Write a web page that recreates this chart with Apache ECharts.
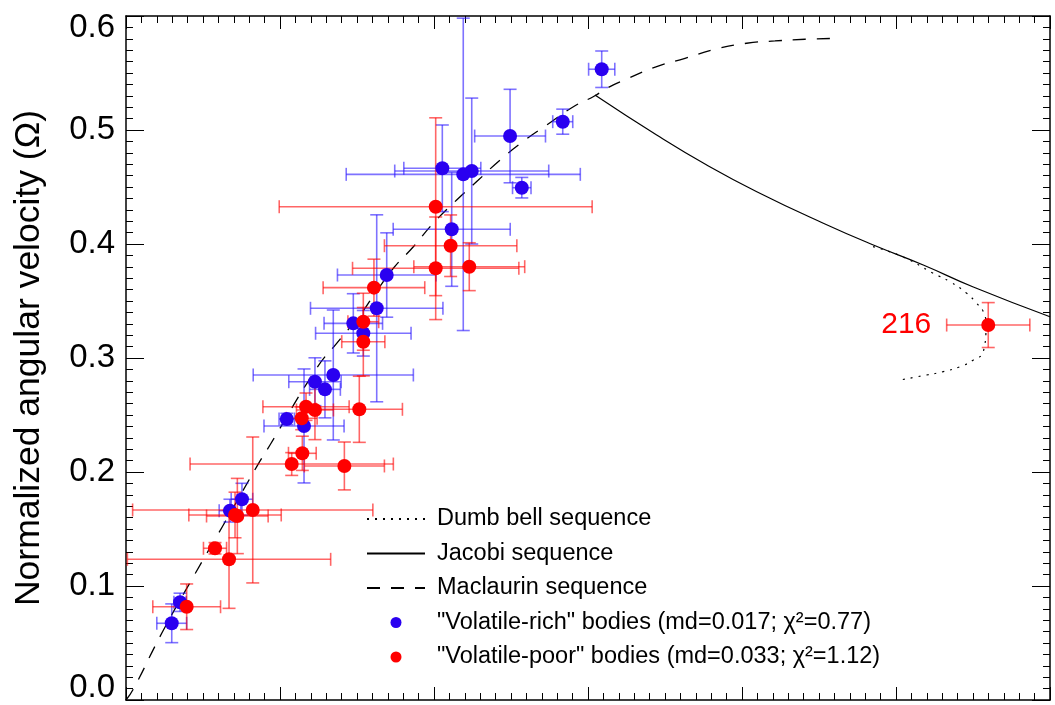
<!DOCTYPE html>
<html>
<head>
<meta charset="utf-8">
<script src="https://cdn.jsdelivr.net/npm/echarts@6/dist/echarts.min.js"></script>
<style>html,body{margin:0;padding:0;background:#fff}#c{width:1055px;height:705px}</style>
</head>
<body>
<div id="c"></div>
<script>
// ---- data ----
var yTicks = [0.0, 0.1, 0.2, 0.3, 0.4, 0.5, 0.6];

// "Volatile-rich" bodies: x, y, x error, y error
var richX  = [0.0297,0.0351,0.0675,0.0753,0.1044,0.1156,0.1227,0.1292,0.1346,0.1476,0.1541,0.1628,0.1693,0.2054,0.2115,0.2190,0.2245,0.2494,0.2570,0.2836,0.3089];
var richY  = [0.0673,0.0857,0.1661,0.1761,0.2465,0.2404,0.2792,0.2725,0.2851,0.3304,0.3217,0.3436,0.3728,0.4664,0.4129,0.4611,0.4640,0.4947,0.4494,0.5073,0.5533];
var richEx = [0.0097,0.004,0.007,0.007,0.005,0.026,0.017,0.010,0.052,0.019,0.031,0.043,0.032,0.025,0.038,0.076,0.050,0.023,0.006,0.0065,0.0085];
var richEy = [0.017,0.008,0.010,0.014,0.005,0.050,0.021,0.025,0.057,0.026,0.020,0.082,0.037,0.038,0.050,0.137,0.064,0.041,0.009,0.011,0.016];

// "Volatile-poor" bodies
var poorX  = [0.0394,0.0578,0.0669,0.0708,0.0723,0.0823,0.1076,0.1145,0.1418,0.1141,0.1169,0.1227,0.1515,0.1541,0.1541,0.1610,0.2011,0.2011,0.2108,0.2229,0.5599];
var poorY  = [0.0818,0.1331,0.1234,0.1623,0.1614,0.1667,0.2070,0.2164,0.2053,0.2471,0.2573,0.2544,0.2550,0.3318,0.3143,0.3617,0.4327,0.3787,0.3985,0.3801,0.3289];
var poorEx = [0.022,0.0075,0.066,0.030,0.020,0.078,0.066,0.009,0.026,0.010,0.028,0.012,0.028,0.010,0.014,0.033,0.1016,0.054,0.043,0.036,0.027];
var poorEy = [0.020,0.005,0.043,0.020,0.033,0.064,0.010,0.015,0.021,0.010,0.012,0.026,0.029,0.025,0.030,0.025,0.078,0.045,0.027,0.021,0.0197];
var poorLabels = ['','','','','','','','','','','','','','','','','','','','','216'];

// Theoretical sequences
var macX = [0.0,0.0047,0.0232,0.0437,0.0632,0.0849,0.0935,0.1238,0.1368,0.1520,0.1606,0.1736,0.1866,0.1995,0.2147,0.2288,0.2429,0.2591,0.2732,0.2905,0.3042,0.3121,0.3262,0.3446,0.3630,0.3825,0.4030,0.4214,0.4409,0.4615];
var macY = [0.0,0.0094,0.0585,0.1080,0.1535,0.2047,0.2237,0.2910,0.3129,0.3377,0.3544,0.3787,0.3976,0.4182,0.4386,0.4561,0.4737,0.4912,0.5044,0.5204,0.5298,0.5366,0.5454,0.5556,0.5629,0.5708,0.5761,0.5781,0.5796,0.5804];
var jacX = [0.3045,0.3446,0.3771,0.4096,0.4528,0.4853,0.5177,0.5502,0.6000];
var jacY = [0.5307,0.4956,0.4693,0.4459,0.4182,0.3991,0.3816,0.3623,0.3362];
var dumX = [0.4851,0.5042,0.5242,0.5351,0.5459,0.5524,0.5567,0.5584,0.5567,0.5502,0.5416,0.5307,0.5199,0.5026];
var dumY = [0.3977,0.3889,0.3743,0.3669,0.3568,0.3480,0.3406,0.3289,0.3055,0.2982,0.2924,0.2880,0.2851,0.2807];

var names = ['Dumb bell sequence','Jacobi sequence','Maclaurin sequence',
  '"Volatile-rich" bodies (md=0.017; χ²=0.77)','"Volatile-poor" bodies (md=0.033; χ²=1.12)'];

// ---- build ----
function pairs(xs, ys){ return xs.map(function(x,i){ return [x, ys[i]]; }); }
function errData(xs, ys, ex, ey){ return xs.map(function(x,i){ return [x, ys[i], ex[i], ey[i]]; }); }
var FONT = 'Liberation Sans';
var BLUE = '#2a00f0', RED = '#ff0000';
var BLUE_ERR = 'rgba(40,20,255,0.6)', RED_ERR = 'rgba(255,0,0,0.6)';

function errRender(color){
  return function(params, api){
    var x = api.value(0), y = api.value(1), ex = api.value(2), ey = api.value(3);
    var l = api.coord([x-ex, y]), r = api.coord([x+ex, y]);
    var b = api.coord([x, y-ey]), t = api.coord([x, y+ey]);
    var c = 6.5;
    var st = {stroke: color, lineWidth: 1.6};
    var segs = [
      [l[0], l[1], r[0], r[1]],
      [l[0], l[1]-c, l[0], l[1]+c],
      [r[0], r[1]-c, r[0], r[1]+c],
      [b[0], b[1], t[0], t[1]],
      [b[0]-c, b[1], b[0]+c, b[1]],
      [t[0]-c, t[1], t[0]+c, t[1]]
    ];
    return {type:'group', children: segs.map(function(s){
      return {type:'line', shape:{x1:s[0],y1:s[1],x2:s[2],y2:s[3]}, style: st};
    })};
  };
}

var axisCommon = {
  min: 0, max: 0.6, interval: 0.1,
  axisLine: {show: true, onZero: false, lineStyle: {color: '#000', width: 1.5}},
  splitLine: {show: false},
  minorTick: {show: true, splitNumber: 10, length: 7, lineStyle: {color: '#000', width: 1}},
  minorSplitLine: {show: false}
};
function ax(extra){ return Object.assign({}, JSON.parse(JSON.stringify(axisCommon)), extra); }

var chart = echarts.init(document.getElementById('c'), null, {renderer: 'canvas'});
chart.setOption({
  backgroundColor: '#fff',
  animation: false,
  textStyle: {fontFamily: FONT},
  grid: {left: 126, right: 5, top: 16, bottom: 5, containLabel: false},
  xAxis: [
    ax({type: 'value', position: 'bottom', axisLabel: {show: false},
        axisTick: {show: true, inside: true, length: 13, lineStyle: {color: '#000', width: 1}}}),
    ax({type: 'value', position: 'top', axisLabel: {show: false},
        axisTick: {show: true, inside: true, length: 13, lineStyle: {color: '#000', width: 1}}})
  ],
  yAxis: [
    ax({type: 'value', position: 'left',
        name: 'Normalized angular velocity (Ω)', nameLocation: 'middle', nameGap: 79,
        nameTextStyle: {fontSize: 35.5, color: '#000', fontFamily: FONT},
        axisTick: {show: true, inside: true, length: 18, lineStyle: {color: '#000', width: 1}},
        axisLabel: {show: true, fontSize: 33, lineHeight: 24, color: '#000', fontFamily: FONT, margin: 11,
          verticalAlignMinLabel: 'bottom', verticalAlignMaxLabel: 'top',
          formatter: function(v){ return yTicks.indexOf(Math.round(v*10)/10) >= 0 ? v.toFixed(1) : ''; }}}),
    ax({type: 'value', position: 'right', axisLabel: {show: false},
        axisTick: {show: true, inside: true, length: 18, lineStyle: {color: '#000', width: 1}}})
  ],
  legend: {
    orient: 'vertical', left: 366, top: 507, padding: 0, itemWidth: 58, itemHeight: 11, itemGap: 10.5,
    selectedMode: false,
    data: [
      {name: names[0], itemStyle: {opacity: 0}},
      {name: names[1], itemStyle: {opacity: 0}},
      {name: names[2], itemStyle: {opacity: 0}},
      {name: names[3], icon: 'circle'}, {name: names[4], icon: 'circle'}
    ],
    textStyle: {fontSize: 23.5, color: '#000', fontFamily: FONT, lineHeight: 24, padding: [0,0,0,7]}
  },
  series: [
    {name: names[0], type: 'line', data: pairs(dumX, dumY), showSymbol: false, symbol: 'none', smooth: true,
     lineStyle: {color: '#000', width: 1.2, type: [2, 6]}, itemStyle: {color: '#000'}, z: 2},
    {name: names[1], type: 'line', data: pairs(jacX, jacY), showSymbol: false, symbol: 'none', smooth: true,
     lineStyle: {color: '#000', width: 1.2, type: 'solid'}, itemStyle: {color: '#000'}, z: 2},
    {name: names[2], type: 'line', data: pairs(macX, macY), showSymbol: false, symbol: 'none', smooth: true,
     lineStyle: {color: '#000', width: 1.3, type: [13, 11]}, itemStyle: {color: '#000'}, z: 2},
    {name: 'rich-err', type: 'custom', data: errData(richX, richY, richEx, richEy),
     renderItem: errRender(BLUE_ERR), z: 3, silent: true},
    {name: 'poor-err', type: 'custom', data: errData(poorX, poorY, poorEx, poorEy),
     renderItem: errRender(RED_ERR), z: 3, silent: true},
    {name: names[3], type: 'scatter', data: pairs(richX, richY), symbol: 'circle', symbolSize: 14,
     itemStyle: {color: BLUE, opacity: 1}, z: 5},
    {name: names[4], type: 'scatter', symbol: 'circle', symbolSize: 14,
     data: poorX.map(function(x,i){
       var d = {value: [x, poorY[i]]};
       if (poorLabels[i]) d.label = {show: true, formatter: poorLabels[i], position: 'left', distance: 50,
         fontSize: 30, color: RED, fontFamily: FONT};
       return d;
     }),
     itemStyle: {color: RED, opacity: 1}, z: 6}
  ]
});
</script>
</body>
</html>
